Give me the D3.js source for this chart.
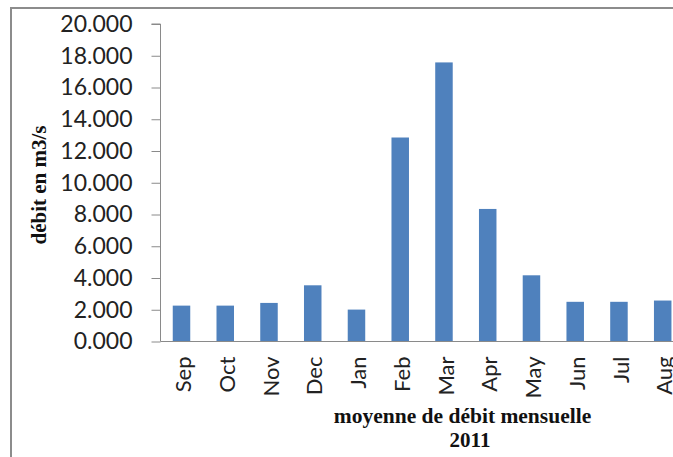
<!DOCTYPE html>
<html><head><meta charset="utf-8">
<script src="https://cdn.jsdelivr.net/npm/d3@7"></script>
<style>body{margin:0;background:#fff}</style>
</head><body>
<script>
const months = ["Sep","Oct","Nov","Dec","Jan","Feb","Mar","Apr","May","Jun","Jul","Aug"];
const debit = [2.26, 2.26, 2.43, 3.54, 2.01, 12.85, 17.58, 8.35, 4.17, 2.50, 2.50, 2.58];
const yTicks = [0,2,4,6,8,10,12,14,16,18,20];
const yTitle = "débit en m3/s";
const xTitle1 = "moyenne de débit mensuelle";
const xTitle2 = "2011";

const W = 673, H = 457;
const svg = d3.select("body").append("svg").attr("width", W).attr("height", H);

// outer frame (extends beyond the picture on right and bottom)
svg.append("rect").attr("x", 11).attr("y", 8).attr("width", 700).attr("height", 500)
  .attr("fill", "#fff").attr("stroke", "#8c8c8c").attr("stroke-width", 2);

const x0 = 160.5, y0 = 341.5, yTop = 24;
const x = d3.scaleBand().domain(months).range([x0, x0 + 12*43.6]).paddingInner(0.6).paddingOuter(0.28);
const y = d3.scaleLinear().domain([0, 20]).range([y0, yTop]);

const lblFont = "Lato, 'Open Sans', sans-serif";

svg.selectAll("rect.bar").data(debit).join("rect").attr("class","bar")
  .attr("x", (d,i) => x(months[i]))
  .attr("width", x.bandwidth())
  .attr("y", d => y(d))
  .attr("height", d => y(0) - y(d))
  .attr("fill", "#4f81bd");

const yAxis = d3.axisLeft(y).tickValues(yTicks).tickSize(9).tickPadding(19)
  .tickFormat(d => d3.format(".3f")(d));
const gy = svg.append("g").attr("transform", `translate(${x0},0)`).call(yAxis);
gy.select(".domain").attr("stroke", "#8a8a8a").attr("d", `M-9,${yTop}H0V${y0}`);
gy.selectAll(".tick line").attr("stroke", "#8a8a8a");
gy.selectAll(".tick text").attr("font-family", lblFont).attr("font-size", 23).attr("fill", "#222");

const xAxis = d3.axisBottom(x).tickSize(0).tickPadding(0);
const gx = svg.append("g").attr("transform", `translate(0,${y0})`).call(xAxis);
gx.select(".domain").attr("stroke", "#8a8a8a").attr("d", `M${x0},0H${W+20}`);
gx.selectAll(".tick text")
  .attr("font-family", lblFont).attr("font-size", 22).attr("fill", "#222")
  .attr("text-anchor", "end").attr("dy", "0.35em")
  .attr("transform", "translate(2,15) rotate(-90)")
  .attr("x", 0).attr("y", 0);

svg.append("text").attr("transform", "translate(46,185) rotate(-90)")
  .attr("text-anchor", "middle").attr("font-family", "'Liberation Serif', serif")
  .attr("font-weight", "bold").attr("font-size", 21).attr("fill", "#111").text(yTitle);

svg.append("text").attr("x", 462.5).attr("y", 423)
  .attr("text-anchor", "middle").attr("font-family", "'Liberation Serif', serif")
  .attr("font-weight", "bold").attr("font-size", 21.5).attr("fill", "#111").text(xTitle1);
svg.append("text").attr("x", 470).attr("y", 447)
  .attr("text-anchor", "middle").attr("font-family", "'Liberation Serif', serif")
  .attr("font-weight", "bold").attr("font-size", 21).attr("fill", "#111").text(xTitle2);
</script>
</body></html>
